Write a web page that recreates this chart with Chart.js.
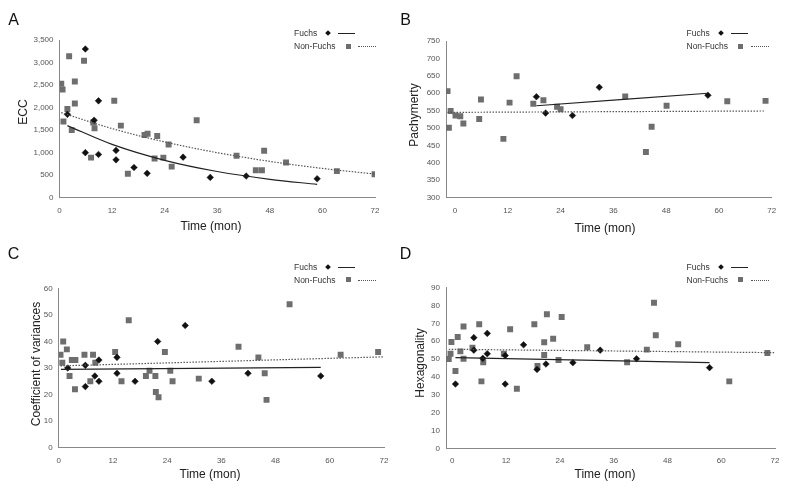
<!DOCTYPE html>
<html>
<head>
<meta charset="utf-8">
<script src="https://cdn.jsdelivr.net/npm/chart.js@4.4.1/dist/chart.umd.min.js"></script>
<style>
    body {
        margin: 0;
        width: 796px;
        height: 493px;
        background: #fff;
        position: relative;
        overflow: hidden;
        font-family: 'Liberation Sans', Arial, sans-serif;
    }
    canvas { position: absolute; }
    .txt {
        position: absolute;
        white-space: nowrap;
        line-height: 1;
        color: #222;
        transform: translate(-50%, -50%);
    }
    .letter { font-size: 16px; color: #111; }
    .title { font-size: 12px; }
    .ytitle { transform: translate(-50%, -50%) rotate(-90deg); }
    .leg {
        position: absolute;
        white-space: nowrap;
        line-height: 1;
        font-size: 8.5px;
        color: #333;
        transform: translateY(-50%);
    }
    .mk { position: absolute; }
</style>
</head>
<body>
<canvas id="chartA" width="398" height="246" style="left:0;top:0;width:398px;height:246px"></canvas>
<canvas id="chartB" width="398" height="246" style="left:398px;top:0;width:398px;height:246px"></canvas>
<canvas id="chartC" width="398" height="247" style="left:0;top:246px;width:398px;height:247px"></canvas>
<canvas id="chartD" width="398" height="247" style="left:398px;top:246px;width:398px;height:247px"></canvas>

<script>
// Shared x ticks (months)
const timeTicks = [0, 12, 24, 36, 48, 60, 72];

// A - ECC
const eccFuchsX = [1.8, 5.9, 7.9, 8.9, 5.9, 8.9, 12.9, 12.9, 17.0, 20.0, 28.2, 34.4, 42.6, 58.8];
const eccFuchsY = [1850, 3300, 1720, 2150, 1000, 960, 1050, 840, 670, 540, 900, 450, 480, 420];
const eccNonX = [0.4, 0.7, 0.9, 1.8, 2.2, 2.8, 3.5, 3.5, 5.6, 7.2, 7.7, 8.0, 12.5, 14.0, 15.6, 19.4, 20.1, 22.3, 21.7, 23.7, 24.9, 25.6, 31.3, 40.4, 44.8, 46.2, 46.7, 51.7, 63.3, 71.9];
const eccNonY = [2530, 2400, 1690, 1970, 3140, 1500, 2580, 2090, 3040, 890, 1670, 1540, 2150, 1600, 530, 1390, 1420, 1370, 870, 890, 1180, 690, 1720, 930, 610, 610, 1040, 780, 590, 520];
const eccFuchsTrendX = [1.8, 12, 24, 36, 48, 58.8];
const eccFuchsTrendY = [1600, 1183, 830, 582, 408, 296];
const eccNonTrendX = [0.4, 12, 24, 36, 48, 60, 72];
const eccNonTrendY = [1887, 1534, 1238, 999, 806, 650, 525];

// B - Pachymerty
const pachyFuchsX = [18.5, 20.6, 26.7, 32.8, 57.5];
const pachyFuchsY = [590, 543, 536, 617, 594];
const pachyNonX = [-1.7, -1.4, -1.0, 0.1, 1.2, 1.9, 5.5, 5.9, 11.0, 12.4, 14.0, 17.8, 20.1, 23.2, 24.0, 38.7, 43.4, 44.7, 48.1, 61.9, 70.6];
const pachyNonY = [606, 501, 549, 536, 534, 513, 526, 582, 469, 573, 649, 570, 580, 561, 554, 591, 431, 504, 564, 577, 578];
const pachyFuchsTrendX = [18.5, 57.5];
const pachyFuchsTrendY = [564, 600];
const pachyNonTrendX = [-1.7, 70.6];
const pachyNonTrendY = [545, 549];

// C - Coefficient of variances
const covFuchsX = [2.0, 5.9, 5.9, 8.0, 8.9, 8.9, 12.9, 12.9, 16.9, 21.9, 28.0, 33.9, 41.9, 58.0];
const covFuchsY = [30, 31, 23, 27, 33, 25, 34, 28, 25, 40, 46, 25, 28, 27];
const covNonX = [0.4, 0.8, 1.0, 1.8, 2.4, 2.9, 3.7, 3.6, 5.7, 7.0, 7.6, 8.1, 12.5, 13.9, 15.5, 19.3, 20.1, 21.4, 21.5, 22.1, 23.5, 24.7, 25.2, 31.0, 39.8, 44.2, 45.6, 46.0, 51.1, 62.4, 70.7];
const covNonY = [35, 32, 40, 37, 27, 33, 33, 22, 35, 25, 35, 32, 36, 25, 48, 27, 29, 27, 21, 19, 36, 29, 25, 26, 38, 34, 28, 18, 54, 35, 36];
const covFuchsTrendX = [0.5, 58];
const covFuchsTrendY = [29.5, 30.2];
const covNonTrendX = [0.4, 72];
const covNonTrendY = [30.8, 34.2];

// D - Hexagonality
const hexFuchsX = [0.7, 4.8, 4.8, 6.8, 7.8, 7.8, 11.8, 11.8, 15.9, 18.9, 20.9, 26.9, 33.0, 41.1, 57.4];
const hexFuchsY = [36, 62, 55, 50.4, 64.4, 53, 36, 52, 58, 44.2, 47.2, 48, 55, 50.2, 45.2];
const hexNonX = [-0.8, -0.4, -0.2, 0.7, 1.2, 1.8, 2.5, 2.5, 4.5, 6.0, 6.5, 6.9, 11.5, 12.9, 14.4, 18.3, 19.0, 20.5, 20.5, 21.1, 22.5, 23.7, 24.4, 30.1, 39.0, 43.4, 45.0, 45.4, 50.4, 61.8, 70.3];
const hexNonY = [50, 53, 59.6, 43.3, 62.4, 54.3, 68.3, 50.2, 56.4, 69.5, 37.5, 48.2, 53, 66.7, 33.4, 69.5, 46.1, 59.4, 52.3, 75.1, 61.4, 49.5, 73.6, 56.6, 48.2, 55.3, 81.6, 63.3, 58.3, 37.5, 53.4];
const hexFuchsTrendX = [0.7, 57.4];
const hexFuchsTrendY = [50.8, 48.0];
const hexNonTrendX = [-0.8, 71.8];
const hexNonTrendY = [55.5, 53.6];

const FUCHS_COLOR = '#111';
const NON_COLOR = '#6e6e6e';
const TICK_FONT = { family: "'Liberation Sans', Arial, sans-serif", size: 8 };

function pts(xs, ys) {
    return xs.map((x, i) => ({ x: x, y: ys[i] }));
}

/**
 * Build one scatter panel with two groups and their trendlines
 */
function makePanel(id, p) {
    const ctx = document.getElementById(id).getContext('2d');
    return new Chart(ctx, {
        type: 'scatter',
        data: {
            datasets: [
                {
                    type: 'line',
                    data: pts(p.fTrendX, p.fTrendY),
                    borderColor: '#222',
                    borderWidth: 1.2,
                    pointRadius: 0,
                    fill: false,
                    cubicInterpolationMode: 'monotone',
                    order: 0
                },
                {
                    type: 'line',
                    data: pts(p.nTrendX, p.nTrendY),
                    borderColor: '#555',
                    borderWidth: 1.2,
                    borderDash: [1.5, 1.5],
                    pointRadius: 0,
                    fill: false,
                    cubicInterpolationMode: 'monotone',
                    order: 0
                },
                {
                    label: 'Fuchs',
                    data: pts(p.fX, p.fY),
                    pointStyle: 'rectRot',
                    pointRadius: 3.3,
                    backgroundColor: FUCHS_COLOR,
                    borderColor: FUCHS_COLOR,
                    borderWidth: 0.5,
                    order: 1
                },
                {
                    label: 'Non-Fuchs',
                    data: pts(p.nX, p.nY),
                    pointStyle: 'rect',
                    pointRadius: 4.2,
                    backgroundColor: NON_COLOR,
                    borderColor: NON_COLOR,
                    borderWidth: 0,
                    order: 2
                }
            ]
        },
        options: {
            responsive: false,
            animation: false,
            devicePixelRatio: 1,
            events: [],
            layout: { padding: { left: 0, top: p.padTop, right: p.padRight, bottom: 0 } },
            plugins: { legend: { display: false }, tooltip: { enabled: false } },
            scales: {
                x: {
                    type: 'linear',
                    min: p.xMin,
                    max: 72,
                    afterBuildTicks: (s) => { s.ticks = timeTicks.map(v => ({ value: v })); },
                    afterFit: (s) => { s.height = p.xHeight; },
                    grid: { display: false, drawTicks: false },
                    border: { display: true, color: '#888', width: 1 },
                    ticks: { font: TICK_FONT, color: '#555', padding: 8, maxRotation: 0 }
                },
                y: {
                    type: 'linear',
                    min: p.yMin,
                    max: p.yMax,
                    afterFit: (s) => { s.width = p.yWidth; },
                    grid: { display: false, drawTicks: false },
                    border: { display: true, color: '#888', width: 1 },
                    ticks: {
                        stepSize: p.yStep,
                        font: TICK_FONT,
                        color: '#555',
                        padding: 6,
                        callback: (v) => v.toLocaleString('en-US')
                    }
                }
            }
        }
    });
}

makePanel('chartA', {
    fX: eccFuchsX, fY: eccFuchsY, nX: eccNonX, nY: eccNonY,
    fTrendX: eccFuchsTrendX, fTrendY: eccFuchsTrendY, nTrendX: eccNonTrendX, nTrendY: eccNonTrendY,
    xMin: 0, yMin: 0, yMax: 3500, yStep: 500,
    padTop: 40, padRight: 23, yWidth: 59.5, xHeight: 48.3
});
makePanel('chartB', {
    fX: pachyFuchsX, fY: pachyFuchsY, nX: pachyNonX, nY: pachyNonY,
    fTrendX: pachyFuchsTrendX, fTrendY: pachyFuchsTrendY, nTrendX: pachyNonTrendX, nTrendY: pachyNonTrendY,
    xMin: -2.05, yMin: 300, yMax: 750, yStep: 50,
    padTop: 41, padRight: 24.3, yWidth: 48, xHeight: 48.3
});
makePanel('chartC', {
    fX: covFuchsX, fY: covFuchsY, nX: covNonX, nY: covNonY,
    fTrendX: covFuchsTrendX, fTrendY: covFuchsTrendY, nTrendX: covNonTrendX, nTrendY: covNonTrendY,
    xMin: 0, yMin: 0, yMax: 60, yStep: 10,
    padTop: 42.3, padRight: 14, yWidth: 58.7, xHeight: 45.3
});
makePanel('chartD', {
    fX: hexFuchsX, fY: hexFuchsY, nX: hexNonX, nY: hexNonY,
    fTrendX: hexFuchsTrendX, fTrendY: hexFuchsTrendY, nTrendX: hexNonTrendX, nTrendY: hexNonTrendY,
    xMin: -1.41, yMin: 0, yMax: 90, yStep: 10,
    padTop: 41.7, padRight: 21, yWidth: 48, xHeight: 44.7
});

/**
 * HTML text helpers (panel letters, axis titles, legends)
 */
function addText(text, cls, cx, cy) {
    const el = document.createElement('div');
    el.className = 'txt ' + cls;
    el.textContent = text;
    el.style.left = cx + 'px';
    el.style.top = cy + 'px';
    document.body.appendChild(el);
}

function addBox(css) {
    const el = document.createElement('div');
    el.className = 'mk';
    Object.assign(el.style, css);
    document.body.appendChild(el);
}

function addLegend(ox, oy) {
    const rows = [
        { text: 'Fuchs', y: 33 },
        { text: 'Non-Fuchs', y: 46 }
    ];
    rows.forEach(r => {
        const el = document.createElement('div');
        el.className = 'leg';
        el.textContent = r.text;
        el.style.left = (294 + ox) + 'px';
        el.style.top = (r.y + oy) + 'px';
        document.body.appendChild(el);
    });
    // Fuchs: diamond + solid line
    addBox({ left: (326 + ox) + 'px', top: (31 + oy) + 'px', width: '4px', height: '4px',
             background: FUCHS_COLOR, transform: 'rotate(45deg)' });
    addBox({ left: (338 + ox) + 'px', top: (33 + oy) + 'px', width: '17px', height: '0',
             borderTop: '1.2px solid #222' });
    // Non-Fuchs: square + dotted line
    addBox({ left: (345.5 + ox) + 'px', top: (43.5 + oy) + 'px', width: '5px', height: '5px',
             background: NON_COLOR });
    addBox({ left: (358 + ox) + 'px', top: (46 + oy) + 'px', width: '18px', height: '0',
             borderTop: '1px dotted #555' });
}

addText('A', 'letter', 13.5, 20);
addText('B', 'letter', 405.5, 20);
addText('C', 'letter', 13.5, 254);
addText('D', 'letter', 405.5, 254);

addText('ECC', 'title ytitle', 23, 112);
addText('Pachymerty', 'title ytitle', 414, 115);
addText('Coefficient of variances', 'title ytitle', 35.5, 364);
addText('Hexagonality', 'title ytitle', 420, 362.5);

addText('Time (mon)', 'title', 211, 226);
addText('Time (mon)', 'title', 605, 228);
addText('Time (mon)', 'title', 210, 473.5);
addText('Time (mon)', 'title', 605, 474);

addLegend(0, 0);
addLegend(392.5, 0);
addLegend(0, 233.7);
addLegend(392.5, 233.5);
</script>
</body>
</html>
